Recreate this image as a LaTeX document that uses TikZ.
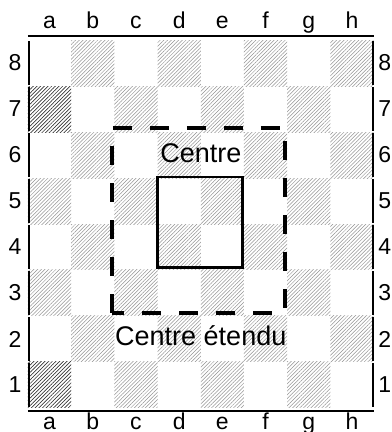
\documentclass[tikz,border=0pt]{standalone}
\usepackage{fontspec}
\setmainfont{Liberation Sans}
\usetikzlibrary{patterns.meta}

\tikzset{
  lbl/.style={font=\fontsize{23}{26}\selectfont},
  zonelbl/.style={font=\fontsize{27}{31}\selectfont, anchor=base},
  frame/.style={line width=2.6pt},
  hatch/.style={pattern={Lines[angle=45,distance=2.6pt,line width=0.5pt]},pattern color=#1},
  hatch/.default=gray!85,
}

\begin{document}
\begin{tikzpicture}[x=43.2pt,y=46pt]
  \useasboundingbox (-0.648,-0.522) rectangle (8.426,8.870);
  % dark squares
  \foreach \c in {0,...,7}
    \foreach \r in {0,...,7} {
      \pgfmathtruncatemacro{\sqpar}{mod(\c+\r,2)}
      \ifnum\sqpar=0
        \fill[hatch] (\c,\r) rectangle ++(1,1);
      \fi
    }
  \fill[hatch=black!80] (0,0) rectangle ++(1,1);
  \fill[hatch=black!80] (0,6) rectangle ++(1,1);
  % frame
  \draw[frame] (0,8.087) -- (8,8.087);
  \draw[frame] (0,-0.065) -- (8,-0.065);
  \foreach \r in {0,...,7} {
    \draw[frame] (0.02,\r+0.03) -- (0.02,\r+0.97);
    \draw[frame] (7.99,\r+0.03) -- (7.99,\r+0.97);
  }
  % coordinates
  \foreach \f [count=\i from 0] in {a,b,c,d,e,f,g,h} {
    \node[lbl,anchor=base] (top\f) at (\i+0.5,8.26) {\f};
    \node[lbl,anchor=base] (bot\f) at (\i+0.5,-0.47) {\f};
  }
  \foreach \r in {1,...,8} {
    \node[lbl] (left\r) at (-0.30,\r-0.5) {\r};
    \node[lbl] (right\r) at (8.26,\r-0.5) {\r};
  }
  % centre and extended centre
  \draw[line width=4pt,dash pattern=on 19pt off 18pt] (1.95,2.07) rectangle (5.95,6.08);
  \draw[line width=2.8pt] (3.0,3.05) rectangle (4.96,5.02);
  \node[zonelbl] (centre) at (4,5.33) {Centre};
  \node[zonelbl] (etendu) at (4,1.35) {Centre étendu};
\end{tikzpicture}
\end{document}
